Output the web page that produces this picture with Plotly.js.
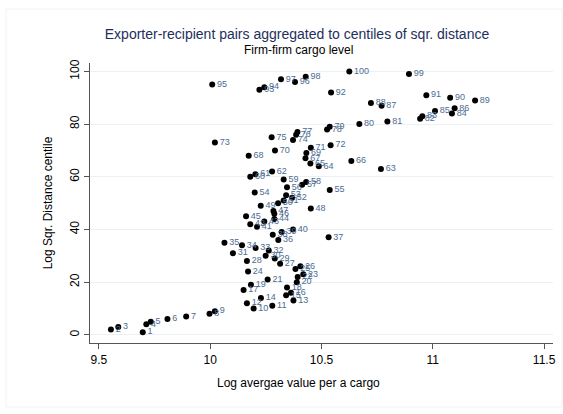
<!DOCTYPE html>
<html>
<head>
<meta charset="utf-8">
<script src="https://cdn.plot.ly/plotly-3.0.1.min.js"></script>
<style>html,body{margin:0;padding:0;background:#fff;}#chart{width:563px;height:414px;}</style>
</head>
<body>
<div id="chart"></div>
<script>
// Centile labels (1..100)
const centiles = [1,2,3,4,5,6,7,8,9,10,11,12,13,14,15,16,17,18,19,20,
  21,22,23,24,25,26,27,28,29,30,31,32,33,34,35,36,37,38,39,40,
  41,42,43,44,45,46,47,48,49,50,51,52,53,54,55,56,57,58,59,60,
  61,62,63,64,65,66,67,68,69,70,71,72,73,74,75,76,77,78,79,80,
  81,82,83,84,85,86,87,88,89,90,91,92,93,94,95,96,97,98,99,100];

// Log average value per cargo
const logValue = [9.697,9.554,9.587,9.713,9.733,9.808,9.892,9.997,10.021,10.195,
  10.279,10.165,10.374,10.228,10.341,10.363,10.150,10.345,10.183,10.389,
  10.258,10.393,10.418,10.170,10.383,10.405,10.314,10.165,10.290,10.249,
  10.102,10.263,10.204,10.143,10.064,10.306,10.532,10.281,10.321,10.372,
  10.210,10.180,10.243,10.288,10.161,10.288,10.284,10.452,10.227,10.305,
  10.330,10.368,10.341,10.200,10.537,10.345,10.413,10.431,10.330,10.180,
  10.203,10.278,10.767,10.488,10.450,10.634,10.428,10.173,10.432,10.291,
  10.452,10.541,10.021,10.372,10.276,10.386,10.392,10.525,10.537,10.670,
  10.796,10.943,10.953,11.086,11.010,11.098,10.770,10.722,11.190,11.078,
  10.971,10.543,10.221,10.243,10.009,10.381,10.318,10.429,10.893,10.625];

const xTicks = [9.5, 10, 10.5, 11, 11.5];
const xTickText = ['9.5', '10', '10.5', '11', '11.5'];
const yTicks = [0, 20, 40, 60, 80, 100];

const FONT = 'Liberation Sans, Arial, sans-serif';

const trace = {
  x: logValue,
  y: centiles,
  text: centiles.map(String),
  mode: 'markers+text',
  type: 'scatter',
  textposition: 'middle right',
  textfont: {family: FONT, size: 9, color: '#4b6c92'},
  marker: {color: '#000000', size: 6},
  cliponaxis: false,
  hoverinfo: 'x+y+text',
  showlegend: false
};

const layout = {
  width: 563, height: 414,
  margin: {l: 90, r: 10, t: 63, b: 71},
  paper_bgcolor: '#ffffff',
  plot_bgcolor: '#ffffff',
  font: {family: FONT, color: '#000'},
  title: {
    text: 'Exporter-recipient pairs aggregated to centiles of sqr. distance',
    font: {family: FONT, size: 14, color: '#1e2f5c'},
    x: 297/563, xref: 'container', xanchor: 'center',
    y: 1 - 34/414, yref: 'container', yanchor: 'middle'
  },
  xaxis: {
    range: [9.46, 11.54],
    tickvals: xTicks, ticktext: xTickText,
    showgrid: false, zeroline: false,
    showline: true, linecolor: '#555', linewidth: 1.3,
    ticks: 'outside', ticklen: 5, tickcolor: '#555',
    tickfont: {family: FONT, size: 12, color: '#000'},
    title: {text: ''}
  },
  yaxis: {
    range: [-3.1, 103.2],
    tickvals: yTicks,
    showgrid: true, gridcolor: '#eaf0f3', gridwidth: 1,
    zeroline: false,
    showline: true, linecolor: '#555', linewidth: 1.3,
    ticks: 'outside', ticklen: 5, tickcolor: '#555',
    tickangle: -90,
    tickfont: {family: FONT, size: 12, color: '#000'},
    title: {text: 'Log Sqr. Distance centile', font: {family: FONT, size: 12, color: '#000'}, standoff: 12}
  },
  annotations: [
    {text: 'Firm-firm cargo level', xref: 'paper', yref: 'paper',
     x: (298-90)/463, y: 1 + (63-50)/280, xanchor: 'center', yanchor: 'middle',
     showarrow: false, font: {family: FONT, size: 12, color: '#000'}},
    {text: 'Log avergae value per a cargo', xref: 'paper', yref: 'paper',
     x: (298-90)/463, y: -(383-343)/280, xanchor: 'center', yanchor: 'middle',
     showarrow: false, font: {family: FONT, size: 12, color: '#000'}}
  ],
  shapes: [
    {type: 'rect', xref: 'paper', yref: 'paper',
     x0: -(90-6)/463, x1: 1 + (563-90-463-1)/463, y0: -(407-343)/280, y1: 1 + (63-9)/280,
     line: {color: '#eef2f4', width: 1}, fillcolor: 'rgba(0,0,0,0)', layer: 'below'}
  ]
};

Plotly.newPlot('chart', [trace], layout, {displayModeBar: false, staticPlot: true});
</script>
</body>
</html>
